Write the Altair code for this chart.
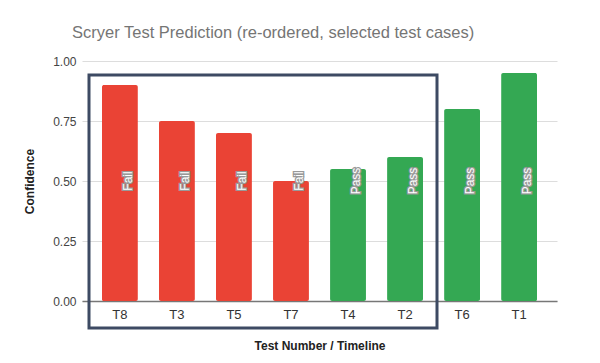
import altair as alt
import pandas as pd

tests = ["T8", "T3", "T5", "T7", "T4", "T2", "T6", "T1"]
confidence = [0.90, 0.75, 0.70, 0.50, 0.55, 0.60, 0.80, 0.95]
outcome = ["Fail", "Fail", "Fail", "Fail", "Pass", "Pass", "Pass", "Pass"]
label_level = [0.5] * len(tests)
y_ticks = [0, 0.25, 0.5, 0.75, 1.0]

df = pd.DataFrame({"test": tests, "conf": confidence, "outcome": outcome, "lab": label_level})

FONT = "Liberation Sans"

x_enc = alt.X("test:N", sort=None, title="Test Number / Timeline",
              scale=alt.Scale(paddingInner=0.37, paddingOuter=0.35),
              axis=alt.Axis(labelAngle=0, labelFontSize=13, labelColor="#333333", labelFont=FONT,
                            titleFont=FONT, titleFontSize=12, titleFontWeight="bold", titleColor="#222222",
                            titlePadding=19, labelPadding=7, ticks=False, domainColor="#777777",
                            domainWidth=1.5, grid=False))

bars = alt.Chart(df).mark_bar(cornerRadius=2).encode(
    x=x_enc,
    y=alt.Y("conf:Q", title="Confidence", scale=alt.Scale(domain=[0, 1]),
            axis=alt.Axis(values=y_ticks, format=".2f", labelFontSize=12, labelColor="#444444",
                          labelFont=FONT, titleFont=FONT, titleFontSize=12, titleFontWeight="bold",
                          titleColor="#222222", titlePadding=16, domain=False, ticks=False,
                          labelPadding=6, gridColor="#dddddd", gridWidth=1)),
    color=alt.Color("outcome:N", scale=alt.Scale(domain=["Fail", "Pass"], range=["#EA4335", "#34A853"]),
                    legend=None),
)

label_outline = alt.Chart(df).mark_text(angle=270, align="center", baseline="middle", dy=8,
                                        fontSize=12, font=FONT, stroke="#999999", strokeWidth=2.5,
                                        fill="#999999").encode(
    x=alt.X("test:N", sort=None), y=alt.Y("lab:Q"), text="outcome:N")
label_fill = alt.Chart(df).mark_text(angle=270, align="center", baseline="middle", dy=8,
                                     fontSize=12, font=FONT, fill="white").encode(
    x=alt.X("test:N", sort=None), y=alt.Y("lab:Q"), text="outcome:N")

box = alt.Chart(pd.DataFrame({"k": [0]})).mark_rect(fill=None, stroke="#3d4a63", strokeWidth=3).encode(
    x=alt.value(7), x2=alt.value(355), y=alt.value(14), y2=alt.value(267))

chart = alt.layer(bars, label_outline, label_fill, box).properties(
    width=475, height=240,
    title=alt.TitleParams("Scryer Test Prediction (re-ordered, selected test cases)",
                          font=FONT, fontSize=16.5, fontWeight="normal", color="#757575",
                          anchor="start", frame="group", dx=-10, offset=14),
    padding={"left": 74, "top": 53, "right": 10, "bottom": 55},
    autosize=alt.AutoSizeParams(type="none"),
).configure_view(stroke=None)

chart.save("out.html", embed_options={"renderer": "svg", "actions": False})
